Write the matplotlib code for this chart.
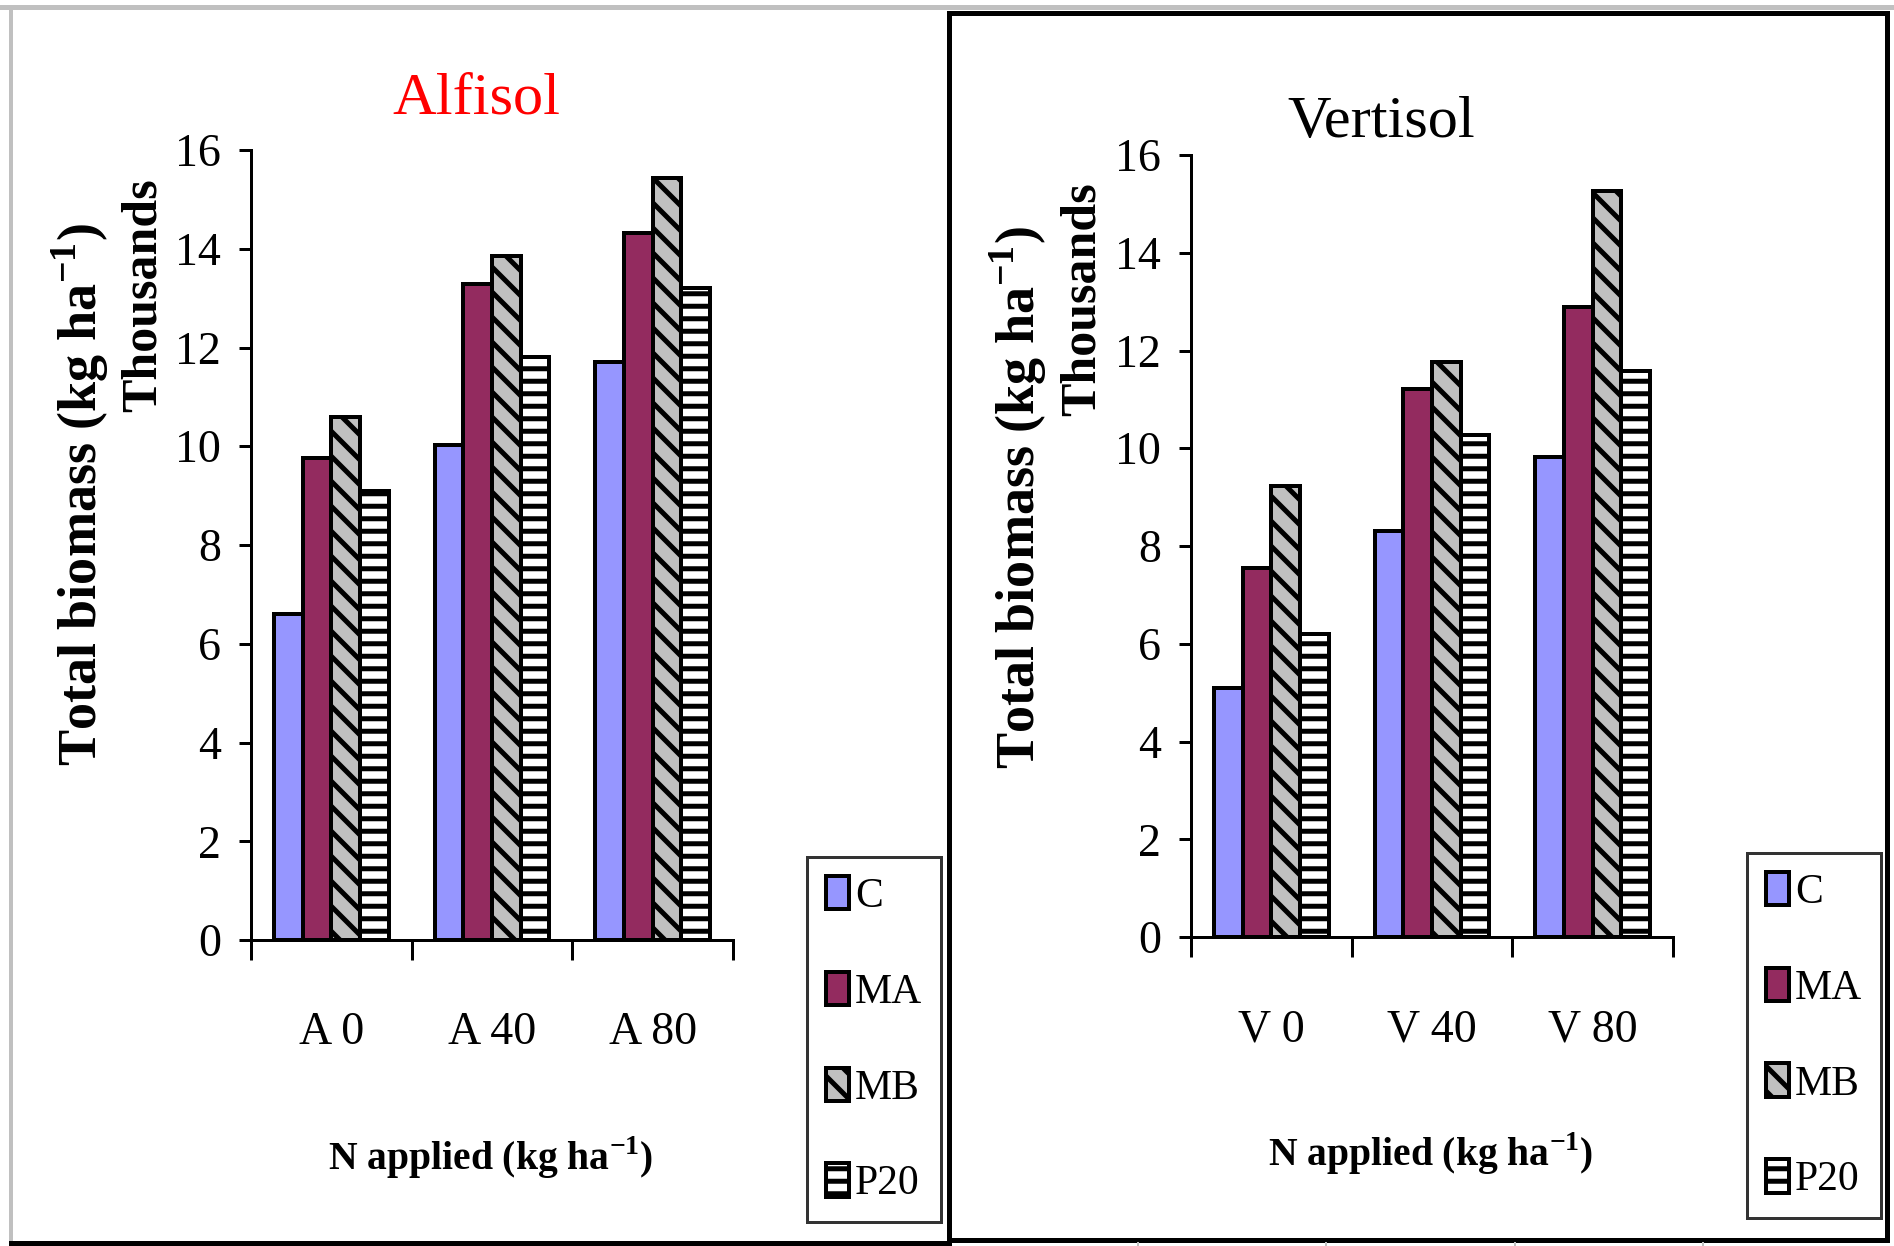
import numpy as np
import matplotlib
matplotlib.use("Agg")
import matplotlib.pyplot as plt
from matplotlib.lines import Line2D
from matplotlib.patches import Rectangle

# data (thousands of kg/ha)
series = ["C", "MA", "MB", "P20"]
alfisol_groups = ["A 0", "A 40", "A 80"]
vertisol_groups = ["V 0", "V 40", "V 80"]

alfisol_C = [6.60, 10.02, 11.70]
alfisol_MA = [9.76, 13.29, 14.32]
alfisol_MB = [10.59, 13.85, 15.43]
alfisol_P20 = [9.10, 11.80, 13.20]

vertisol_C = [5.09, 8.30, 9.82]
vertisol_MA = [7.55, 11.21, 12.90]
vertisol_MB = [9.23, 11.77, 15.26]
vertisol_P20 = [6.20, 10.27, 11.58]

DPI = 150
W, H = 1894, 1246


def pt(px):
    # pixels -> points at this dpi
    return px * 72 / DPI


def fx(x):
    return x / W


def fy(y):
    return 1 - y / H


bar_face = ["#9696ff", "#932b5f", "#c0c0c0", "#ffffff"]
bar_hatch = [None, None, "\\\\", "--"]

plt.rcParams["font.family"] = ["Liberation Serif", "DejaVu Serif"]
plt.rcParams["mathtext.fontset"] = "custom"
plt.rcParams["mathtext.rm"] = "Liberation Serif"
plt.rcParams["mathtext.bf"] = "Liberation Serif:bold"
plt.rcParams["hatch.linewidth"] = pt(5)

fig = plt.figure(figsize=(W / DPI, H / DPI), dpi=DPI)
fig.patch.set_facecolor("white")


def draw_panel(x0, x1, y0, y16, groups, values, title, title_color, title_xy,
               ylab_x, ylab_y, thou_x, thou_y, xlab_xy, leg_xy):
    ax = fig.add_axes([fx(x0), fy(y0), fx(x1) - fx(x0), fy(y16) - fy(y0)])
    x = np.arange(len(groups))
    width = 0.178
    for i, (name, vals) in enumerate(zip(series, values)):
        ax.bar(x + (i - 1.5) * width, vals, width, color=bar_face[i],
               edgecolor="black", linewidth=pt(4), hatch=bar_hatch[i], label=name)
    ax.set_xlim(-0.5, 2.5)
    ax.set_ylim(0, 16)
    ax.set_yticks(range(0, 17, 2))
    ax.set_xticks([-0.5, 0.5, 1.5, 2.5])
    ax.set_xticklabels([])
    ax.set_xticks(x, minor=True)
    ax.set_xticklabels(groups, minor=True)
    ax.tick_params(axis="x", which="major", length=pt(20), width=pt(3))
    ax.tick_params(axis="x", which="minor", length=0, pad=pt(72), labelsize=22)
    ax.tick_params(axis="y", length=pt(12), width=pt(3), pad=pt(18), labelsize=22)
    for s in ["top", "right"]:
        ax.spines[s].set_visible(False)
    for s in ["left", "bottom"]:
        ax.spines[s].set_linewidth(pt(3))

    fig.text(fx(title_xy[0]), fy(title_xy[1]), title, color=title_color,
             fontsize=29, ha="center", va="center")
    fig.text(fx(ylab_x), fy(ylab_y), r"Total biomass (kg ha$^{\mathbf{-1}}$)",
             fontsize=26, fontweight="bold", rotation=90, ha="center", va="center")
    fig.text(fx(thou_x), fy(thou_y), "Thousands", fontsize=24, fontweight="bold",
             rotation=90, ha="center", va="center")
    fig.text(fx(xlab_xy[0]), fy(xlab_xy[1]), r"N applied (kg ha$^{\mathbf{-1}}$)",
             fontsize=19, fontweight="bold", ha="center", va="center")

    leg = ax.legend(loc="upper left", bbox_to_anchor=(fx(leg_xy[0]), fy(leg_xy[1])),
                    bbox_transform=fig.transFigure, fontsize=20, frameon=True,
                    fancybox=False, borderpad=0.45, labelspacing=1.34,
                    handlelength=0.55, handleheight=0.85, handletextpad=0.15,
                    borderaxespad=0)
    leg.get_frame().set_edgecolor("black")
    leg.get_frame().set_linewidth(pt(3))
    return ax


draw_panel(251, 733, 940, 150, alfisol_groups,
           [alfisol_C, alfisol_MA, alfisol_MB, alfisol_P20],
           "Alfisol", "red", (476, 100), 80, 495, 144, 295, (491, 1158), (807, 857))
draw_panel(1191, 1673, 937, 155, vertisol_groups,
           [vertisol_C, vertisol_MA, vertisol_MB, vertisol_P20],
           "Vertisol", "black", (1381, 123), 1018, 498, 1083, 299, (1431, 1154), (1747, 853))

# sheet borders around the two pasted charts
fig.add_artist(Line2D([0, 1], [fy(7), fy(7)], color="#c0c0c0", lw=pt(5)))
fig.add_artist(Line2D([fx(11), fx(11)], [fy(7), fy(1243)], color="#c0c0c0", lw=pt(4)))
fig.add_artist(Line2D([fx(11), fx(949)], [fy(1243), fy(1243)], color="black", lw=pt(5)))
fig.add_artist(Rectangle((fx(949), fy(1240)), fx(1887) - fx(949), fy(13) - fy(1240),
                         transform=fig.transFigure, fill=False, edgecolor="black", lw=pt(5)))
for gx in [1138, 1326, 1515, 1703]:
    fig.add_artist(Line2D([fx(gx), fx(gx)], [fy(1243), 0], color="#c0c0c0", lw=pt(2)))

fig.savefig("out.png", dpi=DPI)
